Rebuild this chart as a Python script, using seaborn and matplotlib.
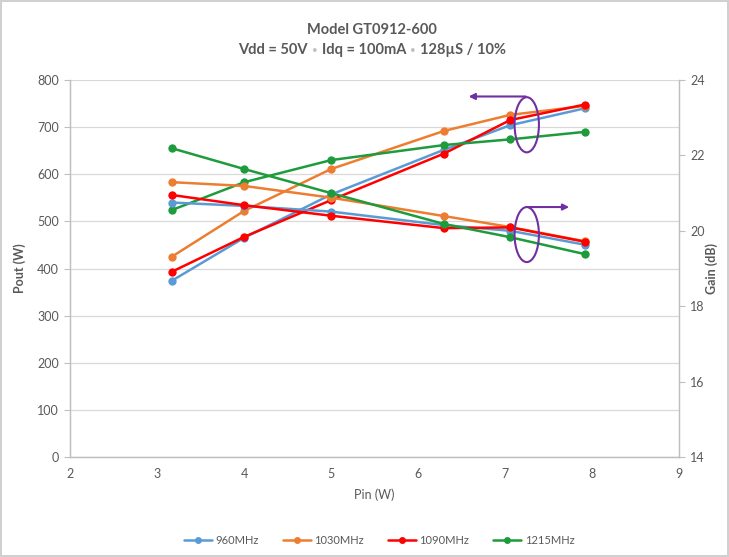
import matplotlib
matplotlib.use("Agg")
import matplotlib.pyplot as plt
from matplotlib.patches import Ellipse
from matplotlib.lines import Line2D
import seaborn as sns
import pandas as pd

# ---------------- data ----------------
pin = [3.17, 4.0, 5.0, 6.3, 7.06, 7.92]
freqs = ["960MHz", "1030MHz", "1090MHz", "1215MHz"]
pout_960 = [374, 465, 557, 652, 704, 740]
pout_1030 = [425, 522, 611, 692, 726, 745]
pout_1090 = [393, 467, 545, 644, 715, 748]
pout_1215 = [524, 583, 630, 662, 674, 690]
gain_960 = [20.75, 20.66, 20.51, 20.15, 20.00, 19.63]
gain_1030 = [21.29, 21.19, 20.88, 20.39, 20.10, 19.72]
gain_1090 = [20.95, 20.68, 20.40, 20.07, 20.09, 19.71]
gain_1215 = [22.19, 21.64, 21.00, 20.18, 19.83, 19.38]
colors = ["#5B9BD5", "#ED7D31", "#FF0000", "#1E9B3C"]

x_ticks = [2, 3, 4, 5, 6, 7, 8, 9]
pout_ticks = [0, 100, 200, 300, 400, 500, 600, 700, 800]
gain_ticks = [14, 16, 18, 20, 22, 24]

title_1 = "Model GT0912-600"
title_2_parts = ["Vdd = 50V", "Idq = 100mA", "128\u00b5S / 10%"]

pouts = [pout_960, pout_1030, pout_1090, pout_1215]
gains = [gain_960, gain_1030, gain_1090, gain_1215]
rows = []
for f, p, g in zip(freqs, pouts, gains):
    for x, pv, gv in zip(pin, p, g):
        rows.append({"Pin": x, "Freq": f, "Pout": pv, "Gain": gv})
df = pd.DataFrame(rows)

# ---------------- figure ----------------
sns.set_style("white")
plt.rcParams["font.family"] = ["Lato", "DejaVu Sans"]
txt = "#595959"
grid_c = "#D9D9D9"
axis_c = "#BFBFBF"

W, H = 729, 557
fig = plt.figure(figsize=(W / 100, H / 100), dpi=100)
fig.patch.set_edgecolor("#D0D0D0")
fig.patch.set_linewidth(1.5)
ax = fig.add_axes([70 / W, 1 - 457 / H, (679 - 70) / W, (457 - 80) / H])
ax2 = ax.twinx()

pal = dict(zip(freqs, colors))
sns.lineplot(data=df, x="Pin", y="Pout", hue="Freq", palette=pal, marker="o",
             markersize=6, markeredgewidth=0, linewidth=1.8, ax=ax, legend=False,
             hue_order=freqs)
sns.lineplot(data=df, x="Pin", y="Gain", hue="Freq", palette=pal, marker="o",
             markersize=6, markeredgewidth=0, linewidth=1.8, ax=ax2, legend=False,
             hue_order=freqs)

ax.set_xlim(2, 9)
ax.set_ylim(0, 800)
ax2.set_ylim(14, 24)
ax.set_xticks(x_ticks)
ax.set_yticks(pout_ticks)
ax2.set_yticks(gain_ticks)
ax.yaxis.grid(True, color=grid_c, linewidth=0.9)
ax.set_axisbelow(True)

for a in (ax, ax2):
    a.spines["top"].set_visible(False)
    for s in ("left", "right", "bottom"):
        a.spines[s].set_color(axis_c)
        a.spines[s].set_linewidth(0.9)
    a.tick_params(colors=txt, labelsize=9, length=4, width=0.8, color=axis_c)
ax.tick_params(axis="x", length=0, pad=8)
ax.tick_params(axis="y", pad=4)
ax2.tick_params(axis="y", pad=4)

ax.set_xlabel("Pin (W)", color=txt, fontsize=9, labelpad=6)
ax.set_ylabel("Pout (W)", color=txt, fontsize=9, fontweight="bold", labelpad=8)
ax2.set_ylabel("")
fig.text(712 / W, 1 - 268 / H, "Gain (dB)", rotation=90, ha="center", va="center",
         color=txt, fontsize=9, fontweight="bold")

# ---------------- titles ----------------
def px(x, y):
    return x / W, 1 - y / H

fig.text(*px(372, 30), title_1, ha="center", va="center",
         color=txt, fontsize=10.5, fontweight="bold")

renderer = fig.canvas.get_renderer()
ty = 50
gap = 7  # pixels on each side of bullet
pieces = []
for i, s in enumerate(title_2_parts):
    t = fig.text(0, 0, s, ha="left", va="center", color=txt, fontsize=10.5,
                 fontweight="bold")
    pieces.append(t)
widths = [t.get_window_extent(renderer).width for t in pieces]
total = sum(widths) + 2 * (2 * gap)
x0 = 372 - total / 2
for i, (t, w) in enumerate(zip(pieces, widths)):
    t.set_position(px(x0, ty))
    x0 += w
    if i < len(pieces) - 1:
        fig.text(*px(x0 + gap, ty), "\u2022", ha="center", va="center",
                 color="#BFBFBF", fontsize=7)
        x0 += 2 * gap

# ---------------- annotations (purple ellipses / arrows) ----------------
purple = "#7030A0"
ell_x = 7.25
ax.add_patch(Ellipse((ell_x, 705), 0.28, 117, fill=False, edgecolor=purple, lw=1.5, zorder=5))
ax.annotate("", xy=(6.55, 765), xytext=(ell_x + 0.02, 765),
            arrowprops=dict(arrowstyle="-|>", color=purple, lw=1.5, mutation_scale=9), zorder=5)
ax2.add_patch(Ellipse((ell_x, 19.9), 0.28, 1.46, fill=False, edgecolor=purple, lw=1.5, zorder=5))
ax2.annotate("", xy=(7.77, 20.63), xytext=(ell_x - 0.02, 20.63),
             arrowprops=dict(arrowstyle="-|>", color=purple, lw=1.5, mutation_scale=9), zorder=5)

# ---------------- legend ----------------
handles = [Line2D([0], [0], color=c, lw=1.8, marker="o", markersize=5, markeredgewidth=0)
           for c in colors]
leg = fig.legend(handles, freqs, loc="center", bbox_to_anchor=(0.52, 0.029), ncol=4,
                 frameon=False, fontsize=8, handlelength=2.5, columnspacing=2.2,
                 handletextpad=0.3)
for t in leg.get_texts():
    t.set_color(txt)

fig.savefig("out.png", dpi=100)
